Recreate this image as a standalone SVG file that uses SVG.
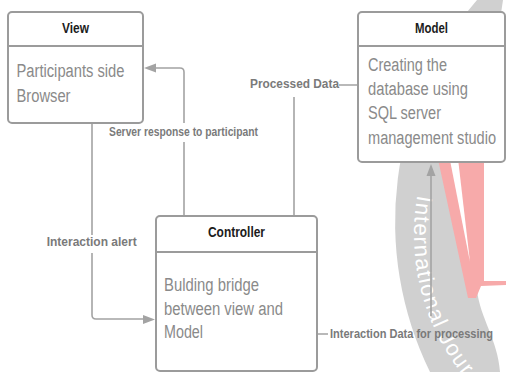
<svg xmlns="http://www.w3.org/2000/svg" width="506" height="372" viewBox="0 0 506 372">
  <style>
    .box { fill: #ffffff; stroke: #9b9b9b; stroke-width: 2; }
    .divider { stroke: #9b9b9b; stroke-width: 2; }
    .title { font-family: "Liberation Sans", Arial, sans-serif; font-size: 14px; font-weight: bold; fill: #1c1c1c; text-anchor: middle; }
    .body { font-family: "Liberation Sans", Arial, sans-serif; font-size: 18px; fill: #8a8a8a; }
    .link { fill: none; stroke: #a3a3a3; stroke-width: 1.6; }
    .head { fill: #a3a3a3; }
    .label { font-family: "Liberation Sans", Arial, sans-serif; font-size: 12px; font-weight: bold; fill: #7a7a7a; text-anchor: middle; }
    .mark { font-family: "Liberation Sans", Arial, sans-serif; font-size: 22px; fill: #ffffff; letter-spacing: 1.3px; }
  </style>
  <defs>
    <path id="markArc" d="M417.6,195 A226,226 0 0 0 753,430.7"/>
  </defs>

  <!-- background emblem -->
  <g id="emblem">
    <path d="M477,0 A341,341 0 0 0 430,372 L500,372 C498,340 480,318 477,290 C476,230 485,120 503,0 Z" fill="#d0d0d0"/>
    <polygon points="436,150 484,150 484,281 506,281 506,285 481,286 476,298 468,298" fill="#f7aaaa"/>
    <polygon points="448,150 457,150 470,262" fill="#ffffff"/>
    <text class="mark"><textPath href="#markArc">International Jour</textPath></text>
  </g>

  <!-- connectors -->
  <g id="connectors">
    <!-- Controller to View -->
    <path class="link" d="M184,216 V142 M184,123 V72 Q184,68 180,68 H155"/>
    <polygon class="head" points="144,68 156,63.5 156,72.5"/>
    <text class="label" x="183.5" y="135.5" textLength="149" lengthAdjust="spacingAndGlyphs">Server response to participant</text>

    <!-- View to Controller -->
    <path class="link" d="M92,123 V235 M92,253 V315 Q92,319 96,319 H145"/>
    <polygon class="head" points="155,319.5 143,315 143,324"/>
    <text class="label" x="91.7" y="245.5" textLength="90" lengthAdjust="spacingAndGlyphs">Interaction alert</text>

    <!-- Controller to Model -->
    <path class="link" d="M294,216 V97 M339,85 H358"/>
    <text class="label" x="294.5" y="88.3" textLength="89" lengthAdjust="spacingAndGlyphs">Processed Data</text>

    <!-- Controller up to Model -->
    <path class="link" d="M317,334 H328 M431,316 V175"/>
    <polygon class="head" points="431,164 426.5,176 435.5,176"/>
    <text class="label" x="411.5" y="337.5" textLength="163" lengthAdjust="spacingAndGlyphs">Interaction Data for processing</text>
  </g>

  <!-- View -->
  <g id="view">
    <rect class="box" x="8" y="12" width="135" height="111" rx="4"/>
    <line class="divider" x1="8" y1="46" x2="143" y2="46"/>
    <text class="title" x="75.5" y="32.5" textLength="27" lengthAdjust="spacingAndGlyphs">View</text>
    <text class="body" x="16.5" y="76.8" textLength="108" lengthAdjust="spacingAndGlyphs">Participants side</text>
    <text class="body" x="16.5" y="101.6" textLength="54" lengthAdjust="spacingAndGlyphs">Browser</text>
  </g>

  <!-- Model -->
  <g id="model">
    <rect class="box" x="358" y="12" width="147" height="150" rx="4"/>
    <line class="divider" x1="358" y1="46" x2="505" y2="46"/>
    <text class="title" x="431.5" y="32.5" textLength="33" lengthAdjust="spacingAndGlyphs">Model</text>
    <text class="body" x="368" y="71" textLength="79" lengthAdjust="spacingAndGlyphs">Creating the</text>
    <text class="body" x="368" y="95" textLength="100" lengthAdjust="spacingAndGlyphs">database using</text>
    <text class="body" x="368" y="119" textLength="73" lengthAdjust="spacingAndGlyphs">SQL server</text>
    <text class="body" x="368" y="144" textLength="128" lengthAdjust="spacingAndGlyphs">management studio</text>
  </g>

  <!-- Controller -->
  <g id="controller">
    <rect class="box" x="156" y="216" width="161" height="155" rx="4"/>
    <line class="divider" x1="156" y1="252" x2="317" y2="252"/>
    <text class="title" x="236.5" y="237" textLength="57" lengthAdjust="spacingAndGlyphs">Controller</text>
    <text class="body" x="164" y="291" textLength="95" lengthAdjust="spacingAndGlyphs">Bulding bridge</text>
    <text class="body" x="164" y="315" textLength="119" lengthAdjust="spacingAndGlyphs">between view and</text>
    <text class="body" x="164" y="338" textLength="39" lengthAdjust="spacingAndGlyphs">Model</text>
  </g>
</svg>
